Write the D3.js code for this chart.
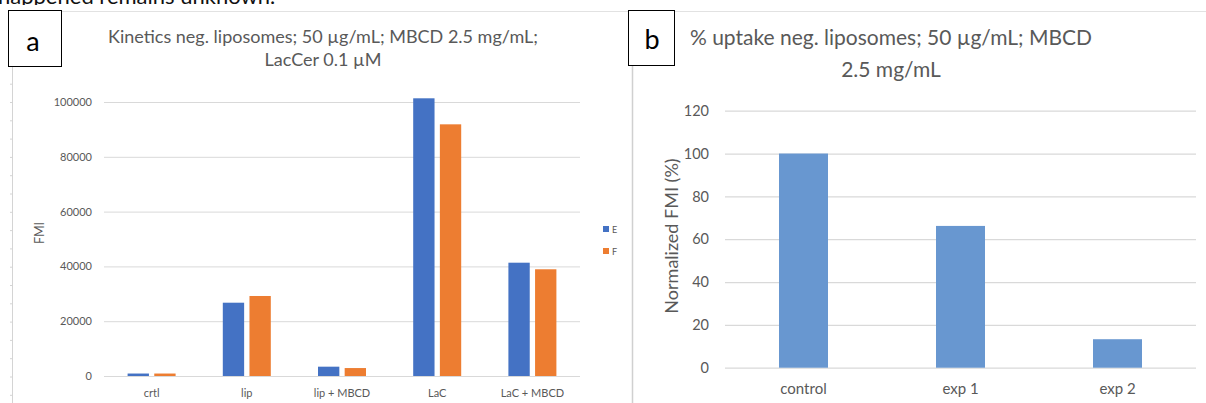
<!DOCTYPE html>
<html>
<head>
<meta charset="utf-8">
<script src="https://cdn.jsdelivr.net/npm/d3@7/dist/d3.min.js"></script>
<style>
  html, body { margin: 0; padding: 0; background: #fff; }
  svg { display: block; font-family: Lato, "Open Sans", sans-serif; }
</style>
</head>
<body>
<svg id="fig" width="1206" height="403"></svg>
<script>
// ---- Panel a: kinetics, two reads (E, F) per condition ----
const categoriesA = ["crtl", "lip", "lip + MBCD", "LaC", "LaC + MBCD"];
const seriesNames = ["E", "F"];
const valuesE = [900, 26750, 3400, 101350, 41350];
const valuesF = [900, 29200, 2900, 91850, 38950];
const ticksA = [0, 20000, 40000, 60000, 80000, 100000];

// ---- Panel b: normalised uptake ----
const categoriesB = ["control", "exp 1", "exp 2"];
const valuesB = [100, 66.2, 13.3];
const ticksB = [0, 20, 40, 60, 80, 100, 120];

const colors = { E: "#4472C4", F: "#ED7D31", B: "#6897D0" };
const textGrey = "#595959";
const gridGrey = "#d9d9d9";

const svg = d3.select("#fig");
svg.append("rect").attr("width", 1206).attr("height", 403).attr("fill", "#fff");

// Last line of the surrounding document text, cut off at the top edge
svg.append("clipPath").attr("id", "topclip")
  .append("rect").attr("x", 0).attr("y", 0).attr("width", 1206).attr("height", 5);
svg.append("text")
  .attr("clip-path", "url(#topclip)")
  .attr("x", -2).attr("y", 4)
  .attr("font-size", 22).attr("fill", "#111")
  .text("happened remains unknown.");

// Frame lines around the figure
svg.append("line").attr("x1", 12).attr("x2", 1206).attr("y1", 11.5).attr("y2", 11.5)
  .attr("stroke", "#e2e2e2").attr("stroke-width", 1);
svg.append("line").attr("x1", 12.5).attr("x2", 12.5).attr("y1", 11).attr("y2", 403)
  .attr("stroke", "#d4d4d4").attr("stroke-width", 1);
svg.append("g").selectAll("line")
  .data(d3.range(11, 403, 18.3))
  .join("line")
  .attr("x1", 10).attr("x2", 12.5)
  .attr("y1", d => d).attr("y2", d => d)
  .attr("stroke", "#d4d4d4");
svg.append("line").attr("x1", 632.5).attr("x2", 632.5).attr("y1", 65).attr("y2", 403)
  .attr("stroke", "#d0d0d0").attr("stroke-width", 1.5);

// Panel letters in boxes
function panelBox(x, y, w, h, letter, tx, ty) {
  svg.append("rect").attr("x", x + 0.5).attr("y", y + 0.5).attr("width", w).attr("height", h)
    .attr("fill", "#fff").attr("stroke", "#000").attr("stroke-width", 1);
  svg.append("text").attr("x", tx).attr("y", ty).attr("text-anchor", "middle")
    .attr("font-size", 27).attr("fill", "#000").text(letter);
}
panelBox(8, 10, 53, 56, "a", 33, 51);
panelBox(628, 10, 46, 55, "b", 652, 49);

// ================= Panel a =================
const titleA = svg.append("text").attr("text-anchor", "middle")
  .attr("font-size", 18).attr("fill", textGrey);
titleA.append("tspan").attr("x", 323).attr("y", 43)
  .text("Kinetics neg. liposomes; 50 µg/mL; MBCD 2.5 mg/mL;");
titleA.append("tspan").attr("x", 323).attr("y", 66).text("LacCer 0.1 µM");

const xA = d3.scaleBand().domain(categoriesA).range([104, 580]);
const xInner = d3.scaleBand().domain(seriesNames).range([-24, 24]).paddingInner(0.2);
const yA = d3.scaleLinear().domain([0, 100000]).range([376, 102]);

const gA = svg.append("g");
gA.append("g").attr("transform", "translate(104,0)")
  .call(d3.axisLeft(yA).tickValues(ticksA).tickSize(-(580 - 104)).tickPadding(12).tickFormat(d3.format("d")))
  .call(g => g.select(".domain").remove())
  .call(g => g.selectAll(".tick line").attr("stroke", gridGrey))
  .call(g => g.selectAll(".tick text").attr("fill", textGrey).attr("font-size", 11)
    .attr("font-family", "Lato, sans-serif"));

gA.append("g").attr("transform", "translate(0,376)")
  .call(d3.axisBottom(xA).tickSize(0).tickPadding(13))
  .call(g => g.select(".domain").remove())
  .call(g => g.selectAll(".tick text").attr("fill", textGrey).attr("font-size", 11)
    .attr("font-family", "Lato, sans-serif"));

const rowsA = categoriesA.map((c, i) => ({ cat: c, E: valuesE[i], F: valuesF[i] }));
const groups = gA.append("g").selectAll("g")
  .data(rowsA).join("g")
  .attr("transform", d => `translate(${xA(d.cat) + xA.bandwidth() / 2},0)`);
groups.selectAll("rect")
  .data(d => seriesNames.map(s => ({ s, v: d[s] })))
  .join("rect")
  .attr("x", d => xInner(d.s))
  .attr("width", xInner.bandwidth())
  .attr("y", d => yA(d.v))
  .attr("height", d => yA(0) - yA(d.v))
  .attr("fill", d => colors[d.s]);

svg.append("text").attr("transform", "translate(44,233) rotate(-90)")
  .attr("text-anchor", "middle").attr("font-size", 12.5).attr("fill", textGrey).text("FMI");

const legend = svg.append("g").selectAll("g")
  .data(seriesNames).join("g")
  .attr("transform", (d, i) => `translate(603,${226 + i * 22})`);
legend.append("rect").attr("width", 6).attr("height", 6).attr("fill", d => colors[d]);
legend.append("text").attr("x", 9).attr("y", 6.5).attr("font-size", 9).attr("fill", textGrey).text(d => d);

// ================= Panel b =================
const titleB = svg.append("text").attr("text-anchor", "middle")
  .attr("font-size", 21).attr("fill", textGrey);
titleB.append("tspan").attr("x", 891).attr("y", 45)
  .text("% uptake neg. liposomes; 50 µg/mL; MBCD");
titleB.append("tspan").attr("x", 891).attr("y", 77).text("2.5 mg/mL");

const xB = d3.scaleBand().domain(categoriesB).range([725, 1196]).paddingInner(0.688).paddingOuter(0.344);
const yB = d3.scaleLinear().domain([0, 120]).range([367.7, 110.7]);

const gB = svg.append("g");
gB.append("g").attr("transform", "translate(725,0)")
  .call(d3.axisLeft(yB).tickValues(ticksB).tickSize(-(1196 - 725)).tickPadding(16))
  .call(g => g.select(".domain").remove())
  .call(g => g.selectAll(".tick line").attr("stroke", gridGrey).attr("stroke-width", 1.3))
  .call(g => g.selectAll(".tick text").attr("fill", textGrey).attr("font-size", 14.5)
    .attr("font-family", "Lato, sans-serif"));

gB.append("g").attr("transform", "translate(0,367.7)")
  .call(d3.axisBottom(xB).tickSize(0).tickPadding(16))
  .call(g => g.select(".domain").remove())
  .call(g => g.selectAll(".tick text").attr("fill", textGrey).attr("font-size", 15)
    .attr("font-family", "Lato, sans-serif"));

gB.append("g").selectAll("rect")
  .data(categoriesB.map((c, i) => ({ cat: c, v: valuesB[i] })))
  .join("rect")
  .attr("x", d => xB(d.cat))
  .attr("width", xB.bandwidth())
  .attr("y", d => yB(d.v))
  .attr("height", d => yB(0) - yB(d.v))
  .attr("fill", colors.B);

svg.append("text").attr("transform", "translate(678,236) rotate(-90)")
  .attr("text-anchor", "middle").attr("font-size", 18).attr("fill", textGrey)
  .text("Normalized FMI (%)");
</script>
</body>
</html>
